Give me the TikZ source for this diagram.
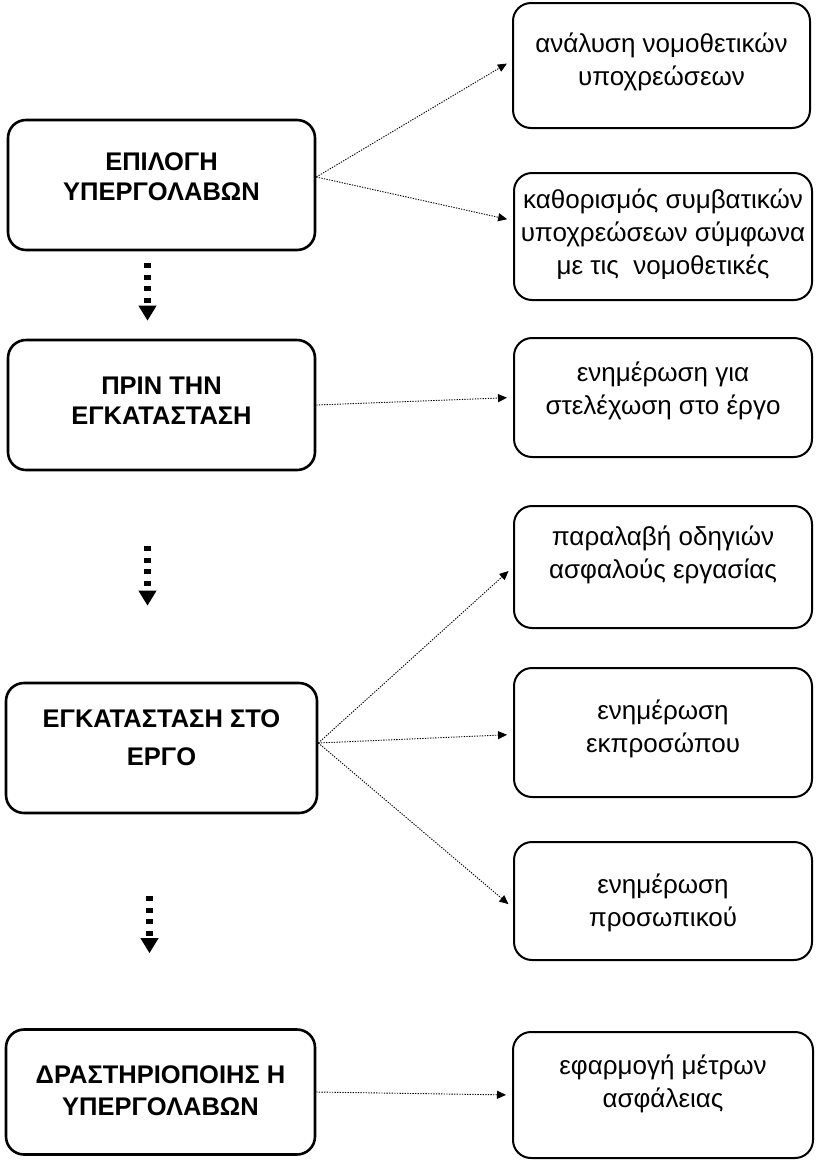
\documentclass[tikz,border=0pt]{standalone}
\usepackage{fontspec}
\setmainfont{Liberation Sans}
\usetikzlibrary{arrows.meta,calc}
\begin{document}
\begin{tikzpicture}[x=1pt,y=-1pt,
  lbox/.style={draw, line width=2.6pt, rounded corners=18pt, minimum width=307pt,
    minimum height=130pt, inner sep=0pt},
  ltext/.style={align=center, font=\fontsize{25.5}{30}\selectfont\bfseries},
  rbox/.style={draw, line width=2pt, rounded corners=18pt, minimum width=297pt, inner sep=0pt},
  rtext/.style={font=\fontsize{26}{33}\selectfont, align=center},
  link/.style={line width=0.9pt, dash pattern=on 1.3pt off 1.3pt,
    -{Triangle[length=9pt,width=8pt]}, shorten >=6pt},
  down/.style={line width=7pt, dash pattern=on 5pt off 6.5pt,
    -{Triangle[length=15pt,width=17pt]}}
]
\useasboundingbox (0,0) rectangle (816,1163);

% left column
\node[lbox, label={[ltext,yshift=8pt]center:ΕΠΙΛΟΓΗ\\ΥΠΕΡΓΟΛΑΒΩΝ}] (l1) at (161.5,185) {};
\node[lbox, label={[ltext,yshift=4pt]center:ΠΡΙΝ ΤΗΝ\\ΕΓΚΑΤΑΣΤΑΣΗ}] (l2) at (161.5,405) {};
\node[lbox, minimum width=311pt,
  label={[ltext,yshift=10pt]center:ΕΓΚΑΤΑΣΤΑΣΗ ΣΤΟ\\[8pt]ΕΡΓΟ}] (l3) at (161.5,748) {};
\node[lbox, minimum width=309pt, minimum height=125pt,
  label={[ltext,yshift=1pt]center:ΔΡΑΣΤΗΡΙΟΠΟΙΗΣ Η\\[2pt]ΥΠΕΡΓΟΛΑΒΩΝ}] (l4) at (160.5,1092) {};

% right column
\node[rbox, minimum height=125pt,
  label={[rtext,yshift=4pt]center:ανάλυση νομοθετικών\\υποχρεώσεων}] (r1) at (661.5,65.5) {};
\node[rbox, minimum width=298pt, minimum height=127pt,
  label={[rtext,yshift=2pt]center:καθορισμός συμβατικών\\υποχρεώσεων σύμφωνα\\με τις\ \ νομοθετικές}] (r2) at (663,236.5) {};
\node[rbox, minimum width=298pt, minimum height=119pt,
  label={[rtext,yshift=7pt]center:ενημέρωση για\\στελέχωση στο έργο}] (r3) at (663,397.5) {};
\node[rbox, minimum width=298pt, minimum height=122pt,
  label={[rtext,yshift=12pt]center:παραλαβή οδηγιών\\ασφαλούς εργασίας}] (r4) at (663,567) {};
\node[rbox, minimum width=298pt, minimum height=129pt,
  label={[rtext,yshift=4pt]center:ενημέρωση\\εκπροσώπου}] (r5) at (663,732.5) {};
\node[rbox, minimum width=298pt, minimum height=118pt,
  label={[rtext,yshift=-2pt]center:ενημέρωση\\προσωπικού}] (r6) at (663,901) {};
\node[rbox, minimum width=300pt, minimum height=126pt,
  label={[rtext,yshift=11pt]center:εφαρμογή μέτρων\\ασφάλειας}] (r7) at (663,1095) {};

% connectors
\draw[link] ($(l1.east)+(0,-8)$) -- ($(r1.west)+(0,-5)$);
\draw[link] ($(l1.east)+(0,-8)$) -- ($(r2.west)+(0,-16)$);
\draw[link] (l2.east) -- (r3.west);
\draw[link] ($(l3.east)+(0,-5)$) -- (r4.west);
\draw[link] ($(l3.east)+(0,-5)$) -- ($(r5.west)+(0,2)$);
\draw[link] ($(l3.east)+(0,-5)$) -- ($(r6.west)+(0,7)$);
\draw[link] (l4.east) -- (r7.west);

% downward arrows
\draw[down] ($(l1.south)+(-14,12)$) -- ($(l2.north)+(-14,-18)$);
\draw[down] ($(l2.south)+(-14,75)$) -- ($(l3.north)+(-14,-76)$);
\draw[down] ($(l3.south)+(-12,82)$) -- ($(l4.north)+(-11,-75)$);
\end{tikzpicture}
\end{document}
